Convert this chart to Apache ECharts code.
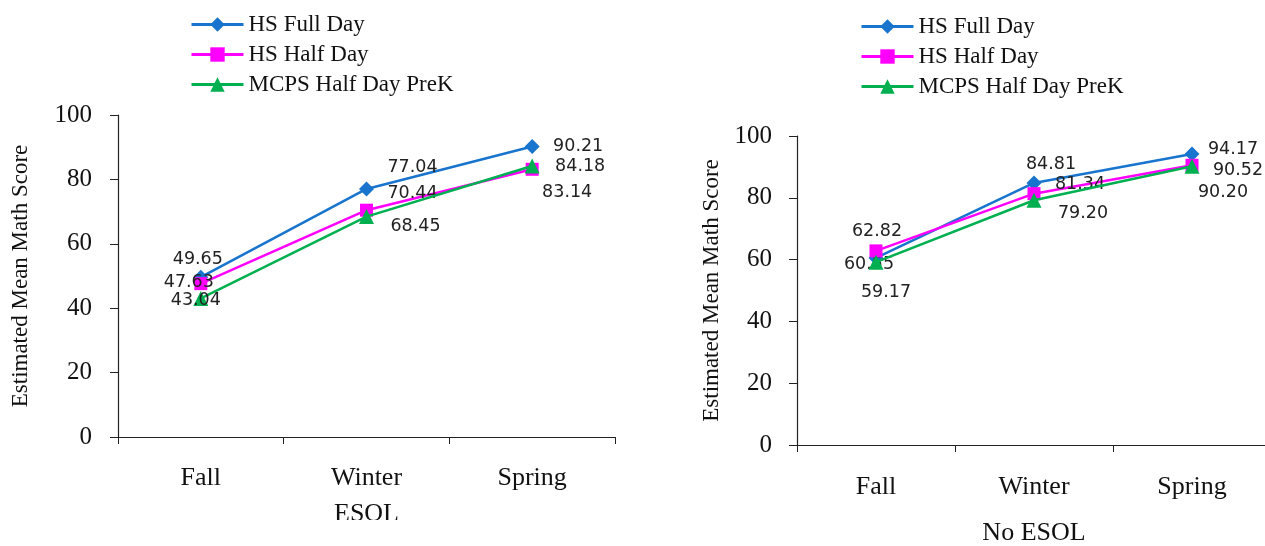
<!DOCTYPE html>
<html>
<head>
<meta charset="utf-8">
<script src="https://cdn.jsdelivr.net/npm/echarts@6/dist/echarts.min.js"></script>
<style>
html, body { margin: 0; padding: 0; background: #fff; overflow: hidden; width: 1265px; height: 546px; }
#left { position: absolute; left: 0; top: 0; width: 640px; height: 520px; overflow: hidden; }
#right { position: absolute; left: 660px; top: 0; width: 640px; height: 546px; }
</style>
</head>
<body>
<div id="left"></div>
<div id="right"></div>
<script>
// ---- data ----
const categories = ['Fall', 'Winter', 'Spring'];
const seriesNames = ['HS Full Day', 'HS Half Day', 'MCPS Half Day PreK'];
const esolFull = [49.65, 77.04, 90.21];
const esolHalf = [47.63, 70.44, 83.14];
const esolMcps = [43.04, 68.45, 84.18];
const noEsolFull = [60.55, 84.81, 94.17];
const noEsolHalf = [62.82, 81.34, 90.52];
const noEsolMcps = [59.17, 79.20, 90.20];
const yMin = 0, yMax = 100, yInterval = 20;
const yAxisTitle = 'Estimated Mean Math Score';

// ---- styles ----
const colors = ['#1874CD', '#FF00FF', '#00B050'];
const symbols = ['diamond', 'rect', 'triangle'];
const symbolSizes = [15, 13, 15];
const serif = '"Liberation Serif", "Times New Roman", serif';
const sans = '"DejaVu Sans", Verdana, sans-serif';

// label offsets (dx, dy) from each marker, per series per point
const leftLabelOffsets = [
  [[-3, -18], [46, -21], [46, 0]],
  [[-12, -1], [46, -17], [35, 23]],
  [[-5, 2], [49, 10], [48, 1]]
];
const rightLabelOffsets = [
  [[-7, 7], [17, -18], [41, -5]],
  [[1, -19], [46, -9], [46, 5]],
  [[10, 30], [49, 13], [31, 26]]
];

function buildOption(cfg) {
  const series = cfg.data.map((vals, si) => ({
    name: seriesNames[si],
    type: 'line',
    data: vals.map((v, pi) => ({
      value: v,
      label: {
        show: true,
        position: 'inside',
        offset: cfg.offsets[si][pi],
        formatter: (p) => Number(p.value).toFixed(2),
        fontFamily: sans,
        fontSize: 17.5,
        color: '#222'
      }
    })),
    symbol: symbols[si],
    symbolSize: symbolSizes[si],
    showAllSymbol: true,
    lineStyle: { color: colors[si], width: 2.5 },
    itemStyle: { color: colors[si] },
    z: 2 + si
  }));
  return {
    animation: false,
    backgroundColor: '#fff',
    legend: {
      orient: 'vertical',
      left: cfg.legendLeft,
      top: cfg.legendTop,
      itemWidth: 52,
      itemHeight: 18,
      itemGap: 7,
      padding: 0,
      lineStyle: { width: 3 },
      textStyle: { fontFamily: serif, fontSize: 23, color: '#111', lineHeight: 18 },
      data: seriesNames
    },
    grid: Object.assign({ outerBoundsMode: 'none', containLabel: false }, cfg.grid),
    xAxis: {
      type: 'category',
      data: categories,
      boundaryGap: true,
      name: cfg.xName,
      nameLocation: 'middle',
      nameGap: cfg.xNameGap,
      nameTextStyle: { fontFamily: serif, fontSize: 26, color: '#111' },
      axisLine: { lineStyle: { color: '#222', width: 1.2 } },
      axisTick: { show: true, length: 7, lineStyle: { color: '#222' }, alignWithLabel: false },
      axisLabel: { fontFamily: serif, fontSize: 26, color: '#111', margin: cfg.xLabelMargin },
      splitLine: { show: false }
    },
    yAxis: {
      type: 'value',
      min: yMin,
      max: yMax,
      interval: yInterval,
      name: yAxisTitle,
      nameLocation: 'middle',
      nameGap: cfg.yNameGap,
      nameRotate: 90,
      nameTextStyle: { fontFamily: serif, fontSize: 23, color: '#111' },
      axisLine: { show: true, lineStyle: { color: '#222', width: 1.2 } },
      axisTick: { show: true, length: 8, lineStyle: { color: '#222' } },
      axisLabel: { fontFamily: serif, fontSize: 25, color: '#111', margin: cfg.yLabelMargin },
      splitLine: { show: false }
    },
    series
  };
}

const leftChart = echarts.init(document.getElementById('left'), null, { renderer: 'canvas' });
leftChart.setOption(buildOption({
  data: [esolFull, esolHalf, esolMcps],
  offsets: leftLabelOffsets,
  legendLeft: 190,
  legendTop: 13,
  grid: { left: 118, top: 115, width: 497, height: 322 },
  xName: 'ESOL',
  xNameGap: 64,
  xLabelMargin: 28,
  yNameGap: 86,
  yLabelMargin: 26
}));

const rightChart = echarts.init(document.getElementById('right'), null, { renderer: 'canvas' });
rightChart.setOption(buildOption({
  data: [noEsolFull, noEsolHalf, noEsolMcps],
  offsets: rightLabelOffsets,
  legendLeft: 200,
  legendTop: 15,
  grid: { left: 137, top: 136, width: 474, height: 309 },
  xName: 'No ESOL',
  xNameGap: 75,
  xLabelMargin: 29,
  yNameGap: 73,
  yLabelMargin: 25
}));
</script>
</body>
</html>
